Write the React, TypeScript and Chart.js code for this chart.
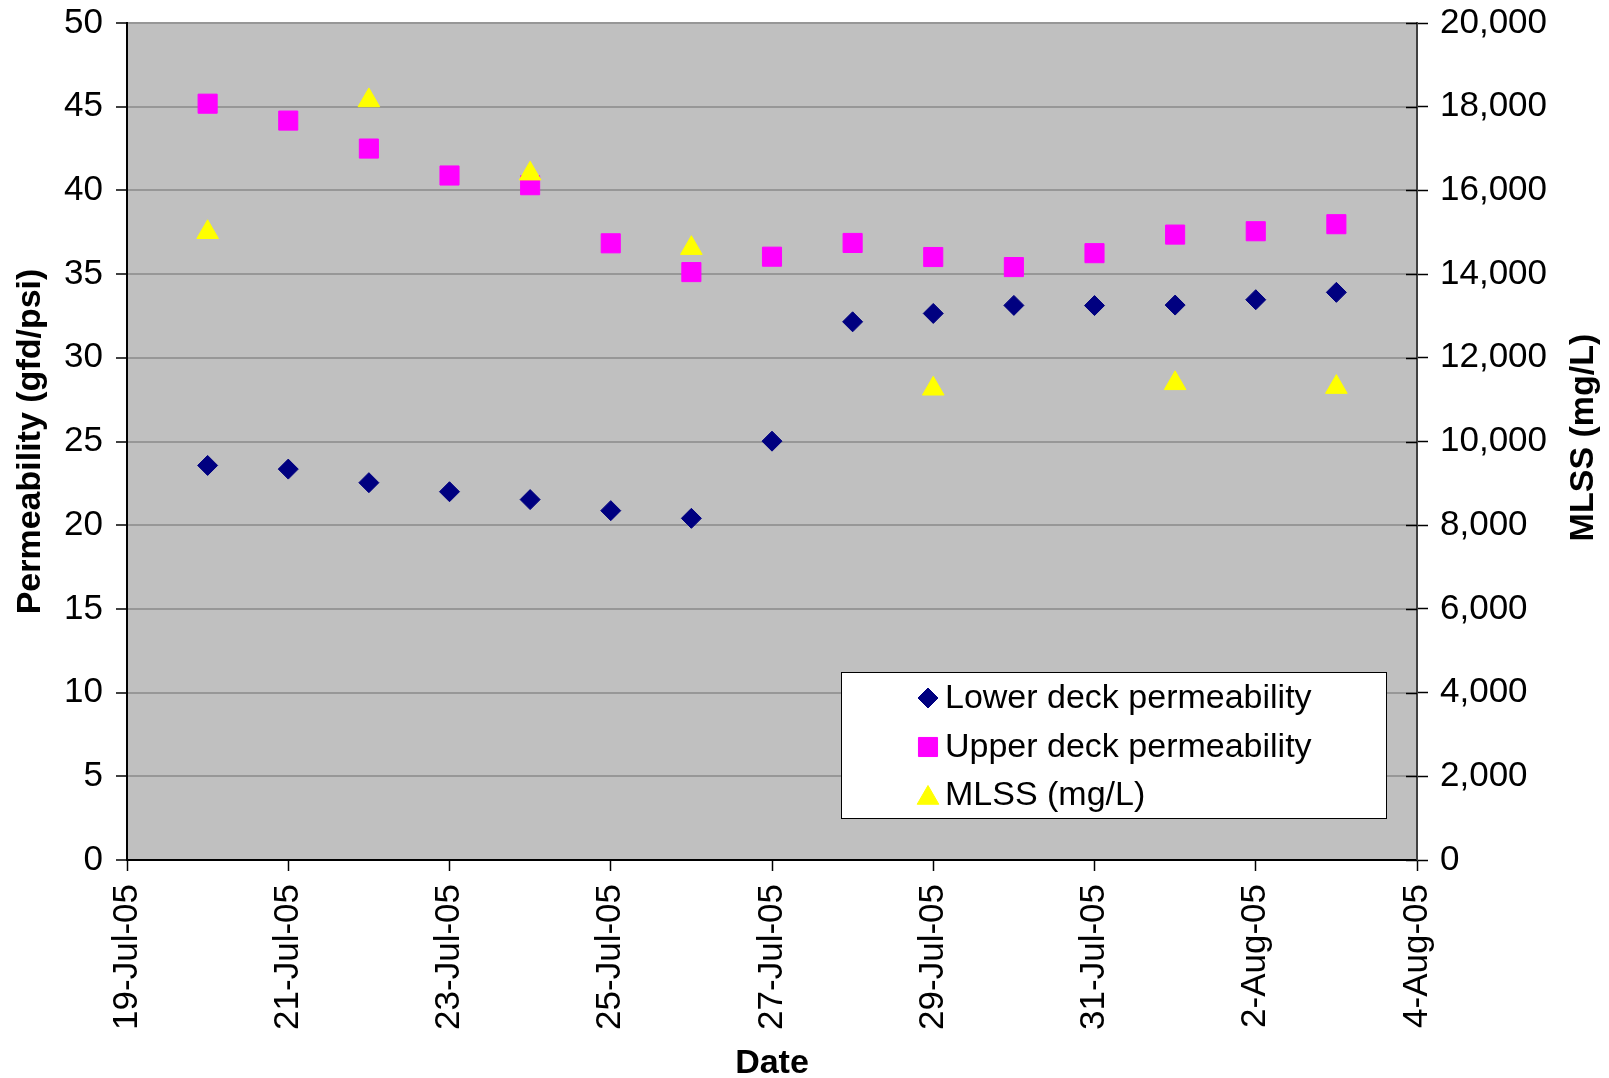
import React, { useEffect, useRef } from 'react';
import { Chart, registerables } from 'chart.js';
import { drawPoint } from 'chart.js/helpers';

Chart.register(...registerables);

// ---- data ----
const BASE_DATE = '2005-07-19';
const dates = [
  '2005-07-20', '2005-07-21', '2005-07-22', '2005-07-23', '2005-07-24',
  '2005-07-25', '2005-07-26', '2005-07-27', '2005-07-28', '2005-07-29',
  '2005-07-30', '2005-07-31', '2005-08-01', '2005-08-02', '2005-08-03',
];
const lowerDeck = [23.57, 23.35, 22.54, 22.0, 21.53, 20.87, 20.41, 25.02, 32.15, 32.65, 33.13, 33.12, 33.15, 33.47, 33.91];
const upperDeck = [45.18, 44.17, 42.5, 40.89, 40.31, 36.84, 35.12, 36.04, 36.86, 36.02, 35.42, 36.25, 37.36, 37.56, 37.98];
const mlssDates = ['2005-07-20', '2005-07-22', '2005-07-24', '2005-07-26', '2005-07-29', '2005-08-01', '2005-08-03'];
const mlss = [15000, 18150, 16400, 14620, 11260, 11390, 11300];
const xTickLabels = ['19-Jul-05', '21-Jul-05', '23-Jul-05', '25-Jul-05', '27-Jul-05', '29-Jul-05', '31-Jul-05', '2-Aug-05', '4-Aug-05'];
const seriesLabels = ['Lower deck permeability', 'Upper deck permeability', 'MLSS (mg/L)'];
const xTitle = 'Date';
const yLeftTitle = 'Permeability (gfd/psi)';
const yRightTitle = 'MLSS (mg/L)';

const dayIndex = (d: string) => Math.round((Date.parse(d) - Date.parse(BASE_DATE)) / 86400000);

const FONT = '"Liberation Sans", Arial, sans-serif';

const plotBg = {
  id: 'plotBg',
  beforeDraw(chart: any) {
    const { ctx, chartArea } = chart;
    ctx.save();
    ctx.fillStyle = '#C0C0C0';
    ctx.fillRect(chartArea.left, chartArea.top, chartArea.right - chartArea.left, chartArea.bottom - chartArea.top);
    ctx.restore();
  },
};

const extras = {
  id: 'extras',
  afterDraw(chart: any) {
    const { ctx, chartArea } = chart;
    // inner half of right-axis cross ticks
    const y1 = chart.scales.y1;
    ctx.save();
    ctx.strokeStyle = '#000';
    ctx.lineWidth = 1.5;
    y1.ticks.forEach((t: any) => {
      const py = Math.round(y1.getPixelForValue(t.value)) + 0.5;
      ctx.beginPath();
      ctx.moveTo(chartArea.right - 11, py);
      ctx.lineTo(chartArea.right, py);
      ctx.stroke();
    });
    ctx.restore();

    // right axis title (reads bottom to top)
    ctx.save();
    ctx.translate(chartArea.right + 167, (chartArea.top + chartArea.bottom) / 2 - 4);
    ctx.rotate(-Math.PI / 2);
    ctx.font = `bold 34px ${FONT}`;
    ctx.fillStyle = '#000';
    ctx.textAlign = 'center';
    ctx.textBaseline = 'middle';
    ctx.fillText(yRightTitle, 0, 0);
    ctx.restore();

    // legend box
    const bx = 841, by = 672, bw = 545, bh = 146;
    ctx.save();
    ctx.fillStyle = '#FFFFFF';
    ctx.fillRect(bx, by, bw, bh);
    ctx.strokeStyle = '#000';
    ctx.lineWidth = 1;
    ctx.strokeRect(bx + 0.5, by + 0.5, bw, bh);
    const rowsY = [by + 26, by + 75, by + 123];
    [0, 1, 2].forEach((i, r) => {
      const ds = chart.data.datasets[i];
      ctx.fillStyle = ds.backgroundColor;
      ctx.strokeStyle = ds.borderColor;
      ctx.lineWidth = 1;
      drawPoint(ctx, { pointStyle: ds.pointStyle, radius: ds.pointRadius, rotation: 0, borderWidth: 1 } as any, bx + 87, rowsY[r] + (ds.pointStyle === 'triangle' ? 3 : 0));
      ctx.fillStyle = '#000';
      ctx.font = `34px ${FONT}`;
      ctx.textAlign = 'left';
      ctx.textBaseline = 'middle';
      ctx.fillText(ds.label, bx + 104, rowsY[r] + 1);
    });
    ctx.restore();
  },
};

export default function App() {
  const ref = useRef<HTMLCanvasElement | null>(null);
  useEffect(() => {
    if (!ref.current) return;
    Chart.defaults.font.family = FONT;
    Chart.defaults.color = '#000';
    const chart = new Chart(ref.current, {
      type: 'scatter',
      data: {
        datasets: [
          {
            label: seriesLabels[0],
            data: dates.map((d, i) => ({ x: dayIndex(d), y: lowerDeck[i] })),
            yAxisID: 'y',
            pointStyle: 'rectRot',
            pointRadius: 10,
            pointHoverRadius: 10,
            backgroundColor: '#000080',
            borderColor: '#000080',
            borderWidth: 1,
            order: 2,
          },
          {
            label: seriesLabels[1],
            data: dates.map((d, i) => ({ x: dayIndex(d), y: upperDeck[i] })),
            yAxisID: 'y',
            pointStyle: 'rect',
            pointRadius: 13.5,
            pointHoverRadius: 13.5,
            backgroundColor: '#FF00FF',
            borderColor: '#FF00FF',
            borderWidth: 1,
            order: 1,
          },
          {
            label: seriesLabels[2],
            data: mlssDates.map((d, i) => ({ x: dayIndex(d), y: mlss[i] })),
            yAxisID: 'y1',
            pointStyle: 'triangle',
            pointRadius: 12.5,
            pointHoverRadius: 12.5,
            backgroundColor: '#FFFF00',
            borderColor: '#FFFF00',
            borderWidth: 1,
            order: 0,
          },
        ],
      } as any,
      options: {
        animation: false,
        responsive: false,
        devicePixelRatio: 1,
        layout: { padding: { top: 23, left: 0, right: 0, bottom: 0 } },
        plugins: { legend: { display: false }, tooltip: { enabled: false } },
        scales: {
          x: {
            type: 'linear',
            position: 'bottom',
            min: 0,
            max: 16,
            ticks: {
              stepSize: 2,
              autoSkip: false,
              minRotation: 90,
              maxRotation: 90,
              padding: 13,
              font: { size: 35 },
              color: '#000',
              callback: (_v: any, idx: number) => xTickLabels[idx] ?? '',
            },
            grid: { drawOnChartArea: false, tickLength: 11, tickColor: '#000', tickWidth: 1.5 },
            border: { color: '#000', width: 2 },
            title: { display: true, text: xTitle, font: { size: 34, weight: 'bold', lineHeight: 1 }, color: '#000', padding: { top: 0, bottom: -3 } },
            afterFit: (s: any) => { s.height = 218; s.paddingLeft = 0; s.paddingRight = 0; },
          },
          y: {
            position: 'left',
            min: 0,
            max: 50,
            ticks: { stepSize: 5, padding: 13, font: { size: 35 }, color: '#000' },
            grid: { color: '#979797', lineWidth: 2, tickLength: 11, tickColor: '#000', tickWidth: 1.5 },
            border: { color: '#000', width: 2 },
            title: { display: true, text: yLeftTitle, font: { size: 34, weight: 'bold', lineHeight: 1 }, color: '#000', padding: { top: 14, bottom: 0 } },
            afterFit: (s: any) => { s.width = 127; s.paddingTop = 0; s.paddingBottom = 0; },
          },
          y1: {
            position: 'right',
            min: 0,
            max: 20000,
            ticks: {
              stepSize: 2000,
              padding: 12,
              font: { size: 35 },
              color: '#000',
              callback: (v: any) => Number(v).toLocaleString('en-US'),
            },
            grid: { drawOnChartArea: false, tickLength: 11, tickColor: '#000', tickWidth: 1.5 },
            border: { color: '#404040', width: 2 },
            title: { display: false },
            afterFit: (s: any) => { s.width = 192; s.paddingTop = 0; s.paddingBottom = 0; },
          },
        },
      } as any,
      plugins: [plotBg, extras],
    });
    return () => chart.destroy();
  }, []);
  return (
    <div style={{ position: 'fixed', left: 0, top: 0, width: 1609, height: 1078, background: '#fff' }}>
      <canvas ref={ref} width={1609} height={1078} style={{ display: 'block', width: 1609, height: 1078 }} />
    </div>
  );
}
